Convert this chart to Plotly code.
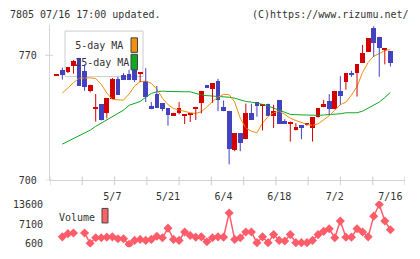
import plotly.graph_objects as go

# ---------------- data ----------------
dates = ["4/18", "4/21", "4/22", "4/23", "4/24", "4/25", "4/28", "4/30", "5/1", "5/2",
         "5/7", "5/8", "5/9", "5/12", "5/13", "5/14", "5/15", "5/16", "5/19", "5/20",
         "5/21", "5/22", "5/23", "5/26", "5/27", "5/28", "5/29", "5/30", "6/2", "6/3",
         "6/4", "6/5", "6/6", "6/9", "6/10", "6/11", "6/12", "6/13", "6/16", "6/17",
         "6/18", "6/19", "6/20", "6/23", "6/24", "6/25", "6/26", "6/27", "6/30", "7/1",
         "7/2", "7/3", "7/4", "7/7", "7/8", "7/9", "7/10", "7/11", "7/14", "7/15", "7/16"]

open_ = [758.8, 761.5, 760.6, 763.7, 768.2, 761.3, 749.6, 740.0, 742.3, 737.5,
         745.6, 756.8, 758.6, 759.2, 761.9, 759.9, 755.2, 741.4, 748.3, 742.9,
         740.2, 736.0, 737.8, 736.0, 736.5, 739.6, 743.4, 753.2, 750.7, 755.4,
         741.1, 738.9, 717.0, 726.1, 723.0, 737.8, 743.8, 741.6, 742.3, 736.0,
         745.0, 733.3, 731.9, 727.9, 730.8, 730.6, 729.3, 735.1, 740.9, 744.1,
         739.8, 750.1, 755.0, 760.1, 759.7, 765.8, 771.8, 785.0, 780.3, 773.1, 772.2]
high = [759.2, 763.1, 763.1, 767.3, 768.6, 764.9, 753.5, 748.3, 742.3, 746.1,
        757.3, 757.9, 760.0, 761.9, 763.0, 760.3, 762.8, 743.8, 752.8, 742.9,
        740.2, 737.8, 743.8, 736.4, 737.0, 741.1, 750.1, 753.2, 754.1, 756.8,
        744.7, 738.9, 726.1, 726.1, 742.9, 742.9, 743.8, 742.3, 742.9, 742.3,
        745.0, 734.2, 732.9, 732.0, 730.8, 731.8, 735.3, 740.2, 745.0, 748.3,
        750.1, 758.3, 760.1, 761.3, 765.1, 775.8, 779.4, 786.3, 780.3, 773.5, 772.2]
low = [758.8, 756.4, 760.1, 759.7, 752.8, 750.1, 749.2, 732.9, 733.5, 734.7,
       745.6, 747.8, 756.1, 756.1, 755.0, 755.0, 743.8, 739.8, 740.5, 738.7,
       730.6, 736.0, 736.9, 731.5, 732.6, 733.8, 737.5, 751.6, 743.4, 738.7,
       738.7, 708.9, 716.3, 716.3, 723.0, 733.8, 735.6, 727.9, 736.0, 729.3,
       731.5, 731.5, 721.7, 727.9, 723.0, 730.6, 721.7, 735.1, 740.9, 736.5,
       739.8, 742.3, 750.7, 757.9, 746.9, 765.8, 771.8, 769.1, 757.9, 764.9, 763.7]
close = [759.2, 758.6, 763.1, 766.4, 752.8, 751.9, 753.2, 740.4, 733.8, 746.1,
         756.4, 747.8, 756.1, 756.1, 756.1, 760.3, 746.5, 739.8, 740.5, 739.8,
         736.5, 737.8, 740.2, 736.4, 737.0, 741.1, 750.1, 751.6, 754.1, 744.7,
         738.7, 717.6, 726.1, 720.8, 737.8, 733.8, 741.6, 742.0, 736.0, 738.9,
         731.5, 731.5, 732.3, 729.9, 729.3, 731.8, 735.3, 740.2, 742.3, 739.8,
         750.1, 746.9, 760.1, 758.8, 765.1, 771.3, 779.4, 776.7, 774.0, 773.5, 765.8]

ma5 = [None, 748.85, 751.92, 754.63, 757.17, 757.35, 757.35, 756.99, 753.73, 748.85,
       745.23, 745.05, 744.87, 748.30, 752.83, 755.18, 755.54, 754.27, 751.02, 745.95,
       742.34, 740.17, 739.26, 738.72, 737.81, 737.45, 738.36, 741.07, 744.14, 746.50,
       748.12, 747.94, 743.78, 734.74, 729.31, 727.50, 726.60, 732.03, 735.64, 737.81,
       738.72, 736.91, 734.74, 733.47, 732.39, 731.30, 730.76, 731.66, 733.83, 736.19,
       739.26, 742.34, 743.78, 747.76, 752.46, 760.42, 766.03, 769.47, 770.91, 772.72, 773.08]
ma25 = [None, 720.27, 721.90, 723.53, 724.79, 726.42, 728.05, 730.22, 732.03, 733.83,
        736.01, 737.81, 739.26, 741.97, 742.88, 744.14, 746.50, 748.67, 749.57, 749.93,
        749.75, 749.57, 749.57, 749.57, 749.57, 748.49, 747.76, 747.40, 747.22, 747.04,
        746.86, 746.50, 745.95, 745.05, 744.14, 743.78, 743.24, 742.52, 741.61, 740.53,
        739.26, 737.99, 736.91, 736.73, 736.55, 736.37, 736.19, 736.37, 736.55, 736.73,
        736.91, 737.27, 737.81, 737.81, 737.81, 738.72, 740.53, 742.34, 743.78, 746.32, 749.21]

volume = [None, 2850, 3920, 4140, None, 4140, 700, 2530, 2530, 2740,
          2850, 2200, 2200, 400, 1670, 1990, 1670, 1990, 3060, 2530,
          5750, 1990, 1670, 4460, 3280, 2740, 2850, 1240, 2530, 2850,
          2740, 10800, 1990, 2530, 4460, 4460, 910, 2850, 910, 3600,
          1670, 1450, 3600, 910, 910, 910, 1670, 3600, 4680, 5540,
          2530, 8120, 2740, 2740, 5540, 4460, 2850, 9730, 13600, 8120, 5210]

label_dates = ["5/7", "5/21", "6/4", "6/18", "7/2", "7/16"]
price_ticks = [700, 770]
volume_ticks = [600, 7100, 13600]

# ---------------- styling ----------------
W, H = 420, 259
RED = "#d40000"
BLUE = "#4343c0"
ORANGE = "#f0900e"
GREEN = "#10a820"
VOLC = "#ff5c6a"
AXC = "#d4d4d4"
TXT = "#333333"
FONT = "DejaVu Sans Mono"

PX_L, PX_R = 50, 405
PY_T, PY_B = 24, 184
VY_T, VY_B = 205, 253
XR = [-1.22, 62.63]
YR = [700.0, 786.8]
VR = [-594, 14891]


def px_x(p):
    return p / W


def px_y(p):
    return (H - p) / H


x = list(range(len(dates)))
fig = go.Figure()

# legend text (drawn under the candles, as in the original)
fig.add_trace(go.Scatter(
    x=[3.3, 3.3], y=[774.9, 765.66], mode="text",
    text=["5-day MA", "25-day MA"], textposition="middle right",
    textfont=dict(family=FONT, size=10, color=TXT),
    hoverinfo="skip", showlegend=False, xaxis="x", yaxis="y"))

# moving averages
fig.add_trace(go.Scatter(x=x, y=ma25, mode="lines", line=dict(color=GREEN, width=1),
                         showlegend=False, xaxis="x", yaxis="y"))
fig.add_trace(go.Scatter(x=x, y=ma5, mode="lines", line=dict(color=ORANGE, width=1),
                         showlegend=False, xaxis="x", yaxis="y"))

# candles: wicks
for col, up in ((RED, True), (BLUE, False)):
    wx, wy = [], []
    for i in x:
        if (close[i] >= open_[i]) == up:
            wx += [i, i, None]
            wy += [low[i], high[i], None]
    fig.add_trace(go.Scatter(x=wx, y=wy, mode="lines", line=dict(color=col, width=1),
                             showlegend=False, xaxis="x", yaxis="y", hoverinfo="skip"))

# candles: bodies
bases = [min(o, c) for o, c in zip(open_, close)]
heights = [max(abs(c - o), 0.55) for o, c in zip(open_, close)]
colors = [RED if c >= o else BLUE for o, c in zip(open_, close)]
fig.add_trace(go.Bar(x=x, y=heights, base=bases, marker=dict(color=colors, line=dict(width=0)),
                     width=0.85, showlegend=False, xaxis="x", yaxis="y"))

# volume
fig.add_trace(go.Scatter(x=x, y=volume, mode="lines+markers",
                         line=dict(color=VOLC, width=1.5),
                         marker=dict(symbol="diamond", size=7, color=VOLC),
                         connectgaps=False, showlegend=False, xaxis="x2", yaxis="y2"))

shapes = []
# legend box
shapes.append(dict(type="rect", xref="paper", yref="paper",
                   x0=px_x(65), x1=px_x(143), y0=px_y(77), y1=px_y(30),
                   fillcolor="white", line=dict(color="#cccccc", width=1), layer="below"))
# legend swatches
shapes.append(dict(type="rect", xref="paper", yref="paper",
                   x0=px_x(131), x1=px_x(137.5), y0=px_y(52), y1=px_y(37),
                   fillcolor=ORANGE, line=dict(color="#444444", width=1), layer="above"))
shapes.append(dict(type="rect", xref="paper", yref="paper",
                   x0=px_x(131), x1=px_x(137.5), y0=px_y(70), y1=px_y(54),
                   fillcolor=GREEN, line=dict(color="#444444", width=1), layer="above"))
shapes.append(dict(type="rect", xref="paper", yref="paper",
                   x0=px_x(102), x1=px_x(108), y0=px_y(228), y1=px_y(213),
                   fillcolor="#ff6464", line=dict(color="#444444", width=1), layer="above"))
# x tick marks crossing the axis line
n_ticks = 12
for k in range(n_ticks):
    xv = XR[0] + (XR[1] - XR[0]) * k / (n_ticks - 1)
    shapes.append(dict(type="line", xref="x", yref="paper", x0=xv, x1=xv,
                       y0=px_y(189), y1=px_y(180), line=dict(color=AXC, width=1.2)))
# y tick marks crossing the axis line
for pv in price_ticks:
    shapes.append(dict(type="line", xref="paper", yref="y", x0=px_x(45), x1=px_x(53),
                       y0=pv, y1=pv, line=dict(color=AXC, width=1.2)))

annotations = [
    dict(text="7805 07/16 17:00 updated.", xref="paper", yref="paper",
         x=px_x(8), y=px_y(13), xanchor="left", yanchor="middle", showarrow=False,
         font=dict(family=FONT, size=10, color=TXT)),
    dict(text="(C)https://www.rizumu.net/", xref="paper", yref="paper",
         x=px_x(411), y=px_y(13), xanchor="right", yanchor="middle", showarrow=False,
         font=dict(family=FONT, size=10, color=TXT)),
    dict(text="Volume", xref="paper", yref="paper",
         x=px_x(57), y=px_y(222), xanchor="left", yanchor="middle", showarrow=False,
         font=dict(family=FONT, size=10, color=TXT)),
]

fig.update_layout(
    width=W, height=H, margin=dict(l=0, r=0, t=0, b=0),
    paper_bgcolor="white", plot_bgcolor="white",
    showlegend=False, bargap=0,
    font=dict(family=FONT, size=10, color=TXT),
    shapes=shapes, annotations=annotations,
    xaxis=dict(domain=[px_x(PX_L), px_x(PX_R)], range=XR, anchor="y",
               showline=True, linecolor=AXC, linewidth=1.2, showgrid=False, zeroline=False,
               ticks="", tickvals=[dates.index(d) for d in label_dates], ticktext=label_dates,
               ticklabelstandoff=7, tickfont=dict(family=FONT, size=10, color=TXT)),
    yaxis=dict(domain=[px_y(PY_B), px_y(PY_T)], range=YR, anchor="x",
               showline=True, linecolor=AXC, linewidth=1.2, showgrid=False, zeroline=False,
               ticks="", tickvals=price_ticks, ticktext=[str(v) for v in price_ticks],
               ticklabelstandoff=10, tickfont=dict(family=FONT, size=10, color=TXT)),
    xaxis2=dict(domain=[px_x(PX_L), px_x(PX_R)], range=XR, anchor="y2", visible=False),
    yaxis2=dict(domain=[px_y(VY_B), px_y(VY_T)], range=VR, anchor="x2",
                showline=False, showgrid=False, zeroline=False, ticks="",
                tickvals=volume_ticks, ticktext=[str(v) for v in volume_ticks],
                ticklabelstandoff=6, tickfont=dict(family=FONT, size=10, color=TXT)),
)

fig.write_html("out.html")
